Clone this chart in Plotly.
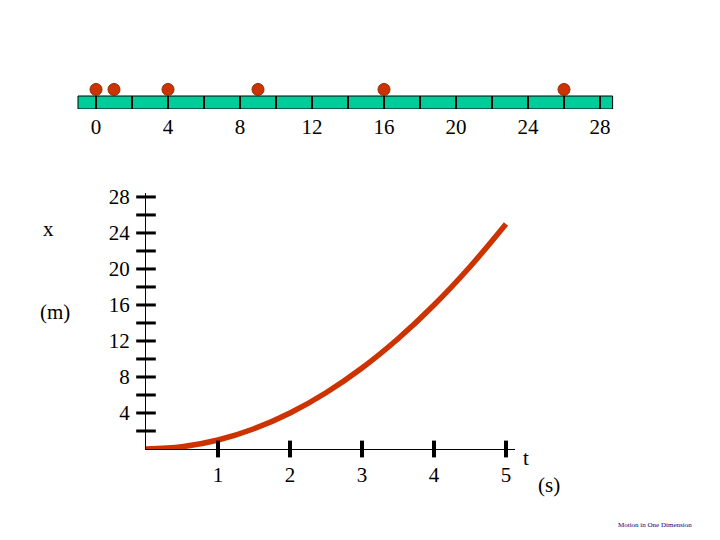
import plotly.graph_objects as go

# ---- data ----
ball_positions = [0, 1, 4, 9, 16, 26]            # metres on the number line
line_ticks = list(range(0, 29, 2))               # dividers on the number line
line_labels = [str(v) if v % 4 == 0 else "" for v in line_ticks]

t_values = [0, 0.5, 1, 1.5, 2, 2.5, 3, 3.5, 4, 4.5, 5]
x_values = [0, 0.25, 1, 2.25, 4, 6.25, 9, 12.25, 16, 20.25, 25]

t_ticks = [1, 2, 3, 4, 5]
x_minor_ticks = list(range(2, 29, 2))
x_label_ticks = [4, 8, 12, 16, 20, 24, 28]

W, H = 720, 540
FONT = "Liberation Serif"
RED = "#CC3300"
GREEN = "#00CC99"

def px(x):
    return x / W

def py(y):
    return 1 - y / H

# top strip: y2 unit = bar height; bar from 0 to 1, balls above
BAR_TOP, BAR_BOT, STRIP_TOP = 96, 109, 82
strip_range_top = (BAR_BOT - STRIP_TOP) / (BAR_BOT - BAR_TOP)

fig = go.Figure()

# green bar
fig.add_shape(type="rect", xref="x2", yref="y2", x0=-1, x1=28.7, y0=0, y1=1,
              fillcolor=GREEN, line=dict(color="black", width=1), layer="below")

# dividers on the bar
div_x, div_y = [], []
for v in line_ticks:
    div_x += [v, v, None]
    div_y += [0, 1, None]
fig.add_trace(go.Scatter(x=div_x, y=div_y, xaxis="x2", yaxis="y2", mode="lines",
                         line=dict(color="black", width=2), hoverinfo="skip"))

# number line balls
fig.add_trace(go.Scatter(
    x=ball_positions, y=[1.5] * len(ball_positions), xaxis="x2", yaxis="y2",
    mode="markers", cliponaxis=False,
    marker=dict(size=12, color=RED, line=dict(color="#8a2a00", width=1)),
))

# position-time curve
fig.add_trace(go.Scatter(
    x=t_values, y=x_values, mode="lines", line=dict(color=RED, width=5.5, shape="spline"),
    cliponaxis=False,
))

# crossing tick marks
fig.add_trace(go.Scatter(
    x=t_ticks, y=[0] * len(t_ticks), mode="markers", cliponaxis=False,
    marker=dict(symbol="line-ns", size=12, line=dict(color="black", width=4)),
))
fig.add_trace(go.Scatter(
    x=[0] * len(x_minor_ticks), y=x_minor_ticks, mode="markers", cliponaxis=False,
    marker=dict(symbol="line-ew", size=14, line=dict(color="black", width=3)),
))

fig.update_layout(
    template="none",
    width=W, height=H, margin=dict(l=0, r=0, t=0, b=0, pad=0),
    paper_bgcolor="white", plot_bgcolor="white", showlegend=False,
    font=dict(family=FONT, size=21, color="black"),
    xaxis=dict(domain=[px(146), px(515)], range=[0, 5.125], anchor="y", automargin=False,
               showline=True, linecolor="black", linewidth=1, showgrid=False, zeroline=False,
               tickvals=t_ticks, ticks="", ticklabelstandoff=7),
    yaxis=dict(domain=[py(449), py(193)], range=[0, 28.44], anchor="x", automargin=False,
               showline=True, linecolor="black", linewidth=1, showgrid=False, zeroline=False,
               tickvals=x_label_ticks, ticks="", ticklabelstandoff=11),
    xaxis2=dict(domain=[0, 1], range=[-96 / 18, 624 / 18], anchor="y2", automargin=False,
                tickvals=line_ticks, ticktext=line_labels, ticks="",
                showgrid=False, zeroline=False, showline=False,
                ticklabelstandoff=3),
    yaxis2=dict(domain=[py(BAR_BOT), py(STRIP_TOP)], range=[0, strip_range_top], anchor="x2",
                automargin=False,
                showticklabels=False, showgrid=False, zeroline=False, showline=False),
)

ann = dict(xref="paper", yref="paper", showarrow=False, xanchor="center", yanchor="middle",
           font=dict(family=FONT, size=21))
fig.add_annotation(text="x", x=px(48), y=py(229), **ann)
fig.add_annotation(text="(m)", x=px(55), y=py(312), **ann)
fig.add_annotation(text="t", x=px(526), y=py(458), **ann)
fig.add_annotation(text="(s)", x=px(549), y=py(485), **ann)
fig.add_annotation(text="Motion in One Dimension", x=px(655), y=py(525), xref="paper", yref="paper",
                   showarrow=False, xanchor="center", yanchor="middle",
                   font=dict(family=FONT, size=7, color="#000080"))

fig.write_html("out.html", config={"displayModeBar": False})

# remove the default page margin so the figure sits at the window origin
with open("out.html", encoding="utf-8") as f:
    html = f.read()
html = html.replace("<body>", '<body style="margin:0;padding:0;">', 1)
with open("out.html", "w", encoding="utf-8") as f:
    f.write(html)
